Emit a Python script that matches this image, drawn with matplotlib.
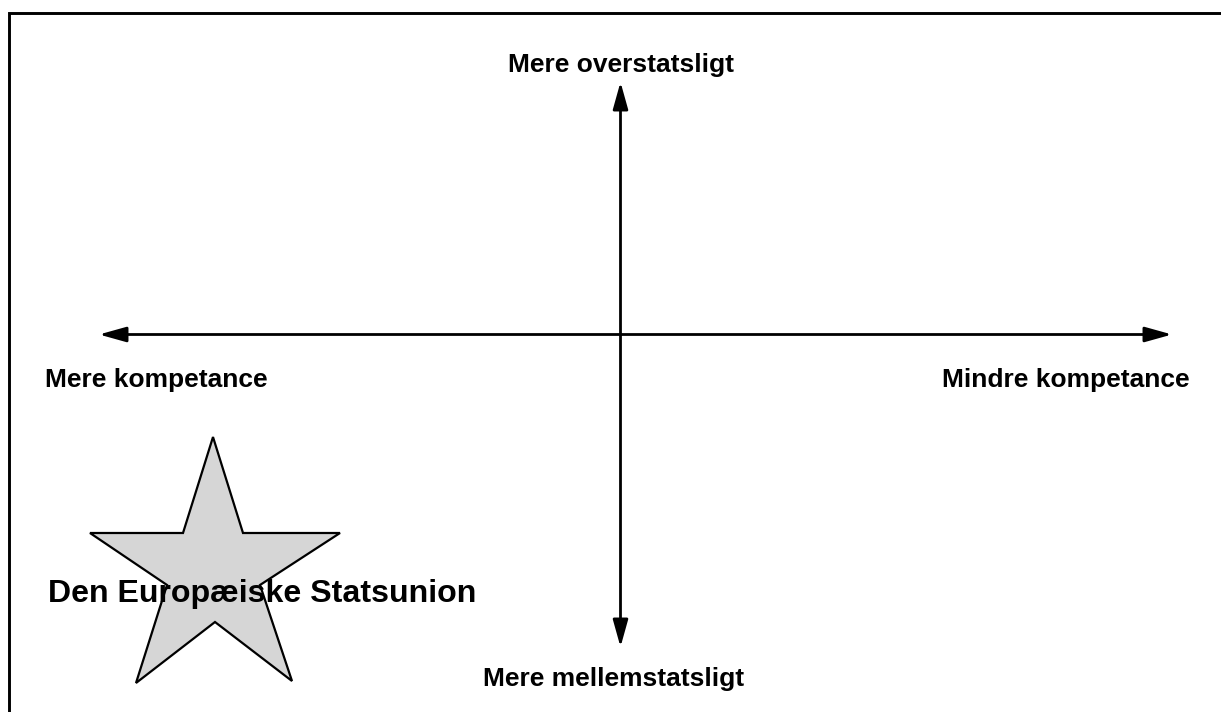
import matplotlib
matplotlib.use("Agg")
import matplotlib.pyplot as plt
from matplotlib.patches import FancyArrowPatch, Polygon

# axis ends (pixel-like diagram coordinates)
h_axis_x = [99, 1172]
h_axis_y = 334.5
v_axis_x = 620.5
v_axis_y = [82, 647]

axis_labels = ["Mere overstatsligt", "Mere mellemstatsligt",
               "Mere kompetance", "Mindre kompetance"]

# star outline for "Den Europæiske Statsunion"
star_x = [213, 243, 340, 260, 292, 215, 136, 167, 90, 183]
star_y = [437, 533, 533, 585, 681, 622, 683, 585, 533, 533]
star_label = "Den Europæiske Statsunion"


def main():
    plt.rcParams['font.family'] = ['Liberation Sans', 'DejaVu Sans']
    fig = plt.figure(figsize=(12.21, 7.12), dpi=100)
    ax = fig.add_axes([0, 0, 1, 1])
    ax.set_xlim(0, 1221)
    ax.set_ylim(712, 0)
    ax.axis('off')

    # frame (only top and left edge are visible)
    ax.plot([8.7, 8.7, 1230], [720, 13, 13], color='black', lw=2.1,
            solid_joinstyle='miter')

    style = "<|-|>,head_length=16.5,head_width=4.6"
    ax.add_patch(FancyArrowPatch((h_axis_x[0], h_axis_y), (h_axis_x[1], h_axis_y),
                                 arrowstyle=style, mutation_scale=1, lw=2.0,
                                 color='black', shrinkA=0, shrinkB=0))
    ax.add_patch(FancyArrowPatch((v_axis_x, v_axis_y[0]), (v_axis_x, v_axis_y[1]),
                                 arrowstyle=style, mutation_scale=1, lw=2.0,
                                 color='black', shrinkA=0, shrinkB=0))

    fs = 19
    ax.text(620.5, 72, axis_labels[0], ha='center', va='baseline',
            fontsize=fs, fontweight='bold')
    ax.text(613.5, 686, axis_labels[1], ha='center', va='baseline',
            fontsize=fs, fontweight='bold')
    ax.text(45, 387, axis_labels[2], ha='left', va='baseline',
            fontsize=fs, fontweight='bold')
    ax.text(1190, 387, axis_labels[3], ha='right', va='baseline',
            fontsize=fs, fontweight='bold')

    ax.add_patch(Polygon(list(zip(star_x, star_y)), closed=True,
                         facecolor='#d6d6d6', edgecolor='black', lw=1.6,
                         joinstyle='miter'))
    ax.text(48, 602, star_label, ha='left', va='baseline',
            fontsize=23.1, fontweight='bold')

    fig.savefig('out.png', dpi=100)


if '__main__' == __name__:
    main()
